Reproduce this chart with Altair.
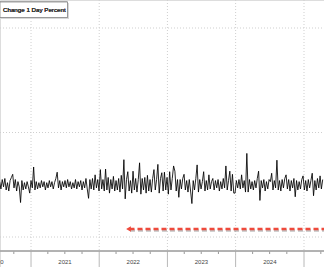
import altair as alt
import pandas as pd

# ---- data ----
legend_label = "Change 1 Day Percent"
series_start = "2020-07-17"
values = [
    0.3, -0.4, 0.5, -0.2, 0.6, -0.5, 0.2, -0.6, 0.4, 0.7,
    1.0, -0.3, 0.5, -0.6, 0.3, -0.2, -1.7, 0.4, -0.5, 0.2,
    -0.4, 0.3, -0.2, -0.8, 0.4, -0.3, 1.7, -0.5, 0.3, -0.4,
    0.2, -0.3, 0.4, -0.2, 0.3, -0.5, 0.2, -0.3, 0.4, -0.2,
    0.3, -0.4, 0.2, 0.6, 1.2, -0.3, 0.4, -0.5, 0.3, -0.2,
    0.4, -0.3, 0.5, -0.2, 0.3, -0.4, 0.2, -0.3, 0.5, -0.4,
    0.3, -0.2, 0.4, -0.5, 0.3, -0.3, 0.6, -0.4, -1.3, 0.5,
    -0.4, 0.6, -0.5, 0.95, -0.3, 0.5, -0.6, 1.45, -0.4, 0.5,
    -0.6, 1.5, -0.5, 0.7, -0.8, 0.5, -0.4, 0.8, -0.6, 0.4,
    -0.5, 0.6, -0.7, 0.9, -0.4, 2.4, -1.35, 0.5, 1.25, -0.6,
    0.4, -0.8, 1.3, -0.5, 0.6, -0.7, 0.5, 2.1, -0.9, 0.6,
    -0.5, 0.7, -0.8, 0.9, -0.6, 0.5, -0.7, 0.6, 1.45, -0.5,
    0.5, 1.95, -0.8, 0.6, 1.15, -0.6, 1.2, -0.5, 0.7, -0.9,
    1.25, -0.5, 0.6, 1.8, 1.3, -0.6, 0.5, -1.2, 0.5, -0.4,
    0.6, 1.0, -0.5, 0.4, -0.7, 0.5, -0.6, -1.8, 0.4, -0.5,
    0.6, 1.9, -0.7, 0.5, -0.4, 0.3, 1.25, -0.6, 0.4, -0.5,
    0.95, -0.4, 0.3, 0.6, -0.5, 0.4, -0.3, 0.5, -0.6, 0.3,
    -0.4, 0.6, -0.3, 1.8, -0.5, 0.4, 1.3, -0.6, 1.0, -0.8,
    -0.8, 0.4, -0.3, 0.5, -0.4, 0.95, -0.3, 0.4, -0.7, 3.0,
    -0.7, 0.5, -0.4, 0.3, -0.5, 0.4, -0.3, 0.6, 1.3, -1.5,
    0.4, -0.3, 0.5, -0.6, 0.3, -0.4, 0.5, 0.3, 1.1, -0.5,
    0.4, -0.3, 2.35, -0.5, 0.4, -0.6, 0.5, -0.3, 0.6, 0.95,
    -0.4, 0.5, -0.6, 0.4, -0.3, 0.6, -1.15, 0.4, -0.5, 0.3,
    -0.4, 0.5, 0.85, -0.5, 0.4, -0.6, 0.5, -0.3, 0.4, 1.1,
    -1.05, 0.4, -0.5, 0.6, -0.3, 0.85, -0.4, 0.5,
]
year_bounds = ["2021-01-01", "2022-01-01", "2023-01-01", "2024-01-01", "2025-01-01"]
quarter_ticks = [
    "2020-10-01", "2021-04-01", "2021-07-01", "2021-10-01",
    "2022-04-01", "2022-07-01", "2022-10-01",
    "2023-04-01", "2023-07-01", "2023-10-01",
    "2024-04-01", "2024-07-01", "2024-10-01", "2025-04-01",
]
year_labels = ["2020", "2021", "2022", "2023", "2024"]
year_label_dates = ["2020-07-02", "2021-07-02", "2022-07-02", "2023-07-02", "2024-07-02"]
grid_levels = [-5, 5, 15]
arrow_start = ["2022-06-12"]
arrow_end = ["2025-04-18"]
arrow_level = [-4.23]

# ---- frames ----
dates = pd.date_range(series_start, periods=len(values), freq="7D").strftime("%Y-%m-%d")
df = pd.DataFrame({"date": dates, "value": values})
df_years = pd.DataFrame({"date": year_bounds})
df_q = pd.DataFrame({"date": quarter_ticks})
df_lab = pd.DataFrame({"date": year_label_dates, "label": year_labels})
df_grid = pd.DataFrame({"level": grid_levels})
df_arrow = pd.DataFrame({"start": arrow_start, "end": arrow_end, "level": arrow_level})

W, H = 324, 267
xscale = alt.Scale(domain=[alt.DateTime(year=2020, month=7, date=19, utc=True),
                           alt.DateTime(year=2025, month=4, date=18, utc=True)])
yscale = alt.Scale(domain=[-7.87, 17.68], nice=False, zero=False)

X = lambda f: alt.X(f, type="temporal", scale=xscale, axis=None)
Y = lambda f: alt.Y(f, type="quantitative", scale=yscale, axis=None)

vgrid = alt.Chart(df_years).mark_rule(color="#cfcfcf", strokeWidth=1, strokeDash=[1, 2]).encode(
    x=X("date"), y=alt.value(0), y2=alt.value(251))
seps = alt.Chart(df_years).mark_rule(color="#b8b8b8", strokeWidth=1).encode(
    x=X("date"), y=alt.value(251), y2=alt.value(267))
qticks = alt.Chart(df_q).mark_rule(color="#999999", strokeWidth=1).encode(
    x=X("date"), y=alt.value(251), y2=alt.value(254))
hgrid = alt.Chart(df_grid).mark_rule(color="#cfcfcf", strokeWidth=1, strokeDash=[1, 2]).encode(
    y=Y("level"), x=alt.value(0), x2=alt.value(W))
axis_line = alt.Chart(df_grid).mark_rule(color="#a8a8a8", strokeWidth=1).encode(
    y=alt.value(251), x=alt.value(0), x2=alt.value(W))
labels = alt.Chart(df_lab).mark_text(font="Liberation Sans", fontSize=6, color="#444444",
                                     baseline="middle").encode(
    x=X("date"), y=alt.value(261.5), text="label:N")

line = alt.Chart(df).mark_line(color="#000000", strokeWidth=0.85, clip=True).encode(
    x=X("date"), y=Y("value"))

arrow_shadow = alt.Chart(df_arrow).mark_rule(color="#9a9a9a", strokeWidth=2.5, strokeDash=[5, 3],
                                             yOffset=1.5, xOffset=0.5, opacity=0.6).encode(
    x=X("start"), x2="end:T", y=Y("level"))
arrow = alt.Chart(df_arrow).mark_rule(color="#ee4a3c", strokeWidth=2.5, strokeDash=[5, 3]).encode(
    x=X("start"), x2="end:T", y=Y("level"))
arrow_head = alt.Chart(df_arrow).mark_point(shape="triangle-left", filled=True, color="#ee4a3c",
                                            size=30, opacity=1, xOffset=-1).encode(
    x=X("start"), y=Y("level"))

legend_shadow = alt.Chart(df_grid).mark_rect(fill="#d8d8d8").encode(
    x=alt.value(1), x2=alt.value(69), y=alt.value(3), y2=alt.value(19))
legend_box = alt.Chart(df_grid).mark_rect(fill="white", stroke="#8a8a8a", strokeWidth=0.8).encode(
    x=alt.value(0), x2=alt.value(67.5), y=alt.value(2), y2=alt.value(17.5))
legend_text = alt.Chart(df_grid).mark_text(font="Liberation Sans", fontSize=6.2, color="#333333",
                                           align="left", baseline="middle").encode(
    x=alt.value(3), y=alt.value(10), text=alt.value(legend_label))

chart = alt.layer(
    vgrid, hgrid, seps, qticks, axis_line, labels, line,
    arrow_shadow, arrow, arrow_head, legend_shadow, legend_box, legend_text,
).properties(
    width=W, height=H, autosize=alt.AutoSizeParams(type="none"), padding=0,
).configure_view(stroke=None).configure(background="white")

chart.save("out.html", embed_options={"renderer": "svg", "actions": False})
